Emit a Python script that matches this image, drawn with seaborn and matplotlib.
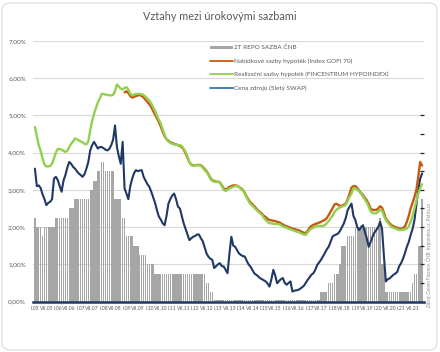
import numpy as np
import pandas as pd
import matplotlib
matplotlib.use("Agg")
import matplotlib.pyplot as plt
from matplotlib.lines import Line2D
from matplotlib.patches import Patch, FancyBboxPatch
import seaborn as sns

# monthly values, I.2005 - XII.2021 (in %)
repo = [
    2.25, 2.0, 2.0, 2.0, 1.75, 2.0, 2.0, 2.0, 2.0, 2.0, 2.0, 2.25,
    2.25, 2.25, 2.25, 2.25, 2.25, 2.25, 2.5, 2.5, 2.5, 2.75, 2.75, 2.75,
    2.75, 2.75, 2.75, 2.75, 2.75, 3.0, 3.0, 3.25, 3.25, 3.5, 3.5, 3.75,
    3.75, 3.5, 3.5, 3.5, 3.5, 3.5, 2.75, 2.75, 2.75, 2.75, 2.25, 2.25,
    1.75, 1.75, 1.75, 1.75, 1.5, 1.5, 1.5, 1.25, 1.25, 1.25, 1.25, 1.0,
    1.0, 1.0, 1.0, 0.75, 0.75, 0.75, 0.75, 0.75, 0.75, 0.75, 0.75, 0.75,
    0.75, 0.75, 0.75, 0.75, 0.75, 0.75, 0.75, 0.75, 0.75, 0.75, 0.75, 0.75,
    0.75, 0.75, 0.75, 0.75, 0.75, 0.75, 0.5, 0.5, 0.25, 0.25, 0.05, 0.05,
    0.05, 0.05, 0.05, 0.05, 0.05, 0.05, 0.05, 0.05, 0.05, 0.05, 0.05, 0.05,
    0.05, 0.05, 0.05, 0.05, 0.05, 0.05, 0.05, 0.05, 0.05, 0.05, 0.05, 0.05,
    0.05, 0.05, 0.05, 0.05, 0.05, 0.05, 0.05, 0.05, 0.05, 0.05, 0.05, 0.05,
    0.05, 0.05, 0.05, 0.05, 0.05, 0.05, 0.05, 0.05, 0.05, 0.05, 0.05, 0.05,
    0.05, 0.05, 0.05, 0.05, 0.05, 0.05, 0.25, 0.25, 0.25, 0.25, 0.5, 0.5,
    0.5, 0.75, 0.75, 0.75, 1.0, 1.5, 1.5, 1.5, 1.75, 1.75, 1.75, 1.75,
    2.0, 2.0, 2.0, 2.0, 2.0, 2.0, 2.0, 2.0, 2.0, 2.0, 2.0, 2.0,
    2.0, 2.25, 1.0, 1.0, 0.25, 0.25, 0.25, 0.25, 0.25, 0.25, 0.25, 0.25,
    0.25, 0.25, 0.25, 0.25, 0.25, 0.25, 0.5, 0.75, 0.75, 1.5, 1.5, 2.75,
]

gofi = [np.nan] * 47 + [
    5.62,
    5.65, 5.6, 5.52, 5.48, 5.5, 5.52, 5.54, 5.55, 5.52, 5.48, 5.42, 5.36,
    5.3, 5.22, 5.12, 5.02, 4.92, 4.82, 4.7, 4.56, 4.44, 4.36, 4.32, 4.28,
    4.26, 4.24, 4.22, 4.2, 4.18, 4.15, 4.08, 3.98, 3.86, 3.74, 3.68, 3.66,
    3.66, 3.67, 3.67, 3.66, 3.62, 3.56, 3.5, 3.42, 3.32, 3.26, 3.24, 3.22,
    3.22, 3.2, 3.12, 3.04, 3.0, 3.04, 3.08, 3.1, 3.12, 3.12, 3.11, 3.08,
    3.04, 3.0, 2.92, 2.82, 2.74, 2.66, 2.62, 2.56, 2.5, 2.45, 2.4, 2.36,
    2.3, 2.27, 2.22, 2.19, 2.18, 2.17, 2.16, 2.14, 2.13, 2.1, 2.07, 2.04,
    2.02, 2.0, 1.98, 1.96, 1.95, 1.93, 1.92, 1.9, 1.87, 1.85, 1.83, 1.9,
    1.98, 2.03, 2.06, 2.08, 2.1, 2.12, 2.14, 2.17, 2.19, 2.24, 2.32, 2.41,
    2.5, 2.6, 2.63, 2.6, 2.56, 2.58, 2.6, 2.63, 2.75, 2.9, 3.06, 3.1,
    3.1, 3.05, 2.98, 2.92, 2.86, 2.78, 2.72, 2.62, 2.5, 2.46, 2.46, 2.46,
    2.5, 2.56, 2.52, 2.38, 2.23, 2.16, 2.1, 2.05, 2.02, 2.0, 1.98, 1.96,
    1.96, 1.97, 2.02, 2.14, 2.3, 2.5, 2.65, 2.81, 3.0, 3.35, 3.75, 3.65,
]

hypoindex = [
    4.69, 4.45, 4.2, 4.05, 3.85, 3.68, 3.63, 3.63, 3.64, 3.7, 3.85, 4.0,
    4.1, 4.1, 4.08, 4.05, 4.02, 4.05, 4.15, 4.24, 4.3, 4.38, 4.36, 4.33,
    4.3, 4.28, 4.24, 4.22, 4.3, 4.6, 4.85, 5.04, 5.2, 5.35, 5.45, 5.58,
    5.58, 5.56, 5.55, 5.54, 5.54, 5.55, 5.65, 5.83, 5.78, 5.72, 5.7, 5.74,
    5.76, 5.7, 5.58, 5.54, 5.56, 5.58, 5.58, 5.58, 5.57, 5.55, 5.5, 5.45,
    5.4, 5.32, 5.22, 5.12, 5.0, 4.88, 4.78, 4.62, 4.48, 4.36, 4.3, 4.26,
    4.24, 4.22, 4.22, 4.2, 4.2, 4.18, 4.1, 4.02, 3.9, 3.75, 3.66, 3.65,
    3.66, 3.66, 3.66, 3.65, 3.6, 3.53, 3.48, 3.4, 3.3, 3.24, 3.22, 3.21,
    3.21, 3.2, 3.1, 3.0, 2.97, 3.0, 3.04, 3.06, 3.08, 3.1, 3.1, 3.08,
    3.02, 2.99, 2.9, 2.8, 2.7, 2.62, 2.58, 2.52, 2.47, 2.42, 2.37, 2.33,
    2.25, 2.19, 2.14, 2.1, 2.1, 2.09, 2.08, 2.08, 2.08, 2.05, 2.02, 2.0,
    1.98, 1.96, 1.94, 1.92, 1.9, 1.88, 1.87, 1.85, 1.82, 1.8, 1.79, 1.85,
    1.92, 1.96, 1.98, 2.01, 2.03, 2.03, 2.03, 2.03, 2.05, 2.1, 2.16, 2.23,
    2.3, 2.4, 2.46, 2.5, 2.53, 2.55, 2.57, 2.6, 2.7, 2.82, 2.9, 3.04,
    3.04, 3.0, 2.96, 2.9, 2.82, 2.74, 2.66, 2.55, 2.42, 2.38, 2.37, 2.37,
    2.42, 2.46, 2.44, 2.3, 2.19, 2.12, 2.06, 2.0, 1.98, 1.96, 1.94, 1.92,
    1.92, 1.93, 1.94, 1.96, 2.02, 2.14, 2.3, 2.5, 2.7, 2.9, 3.05, 3.15,
]

swap = [
    3.57, 3.1, 3.12, 3.05, 2.88, 2.75, 2.59, 2.65, 2.68, 2.75, 3.3, 3.35,
    3.26, 3.1, 2.95, 3.25, 3.4, 3.6, 3.75, 3.7, 3.62, 3.57, 3.5, 3.44,
    3.4, 3.35, 3.42, 3.57, 3.75, 4.06, 4.2, 4.29, 4.2, 4.11, 4.15, 4.15,
    4.12, 4.08, 4.06, 4.1, 4.2, 4.35, 4.73, 4.15, 3.9, 3.7, 4.29, 3.04,
    2.9, 2.75, 3.1, 3.3, 3.45, 3.53, 3.5, 3.52, 3.53, 3.35, 3.25, 3.15,
    3.08, 2.95, 2.8, 2.65, 2.45, 2.28, 2.2, 2.1, 2.05, 2.3, 2.63, 2.75,
    2.85, 2.9, 2.75, 2.55, 2.5, 2.3, 2.1, 1.95, 1.8, 1.65, 1.7, 1.74,
    1.76, 1.8, 1.8, 1.7, 1.62, 1.45, 1.29, 1.2, 1.15, 1.12, 0.9, 0.95,
    1.0, 1.03, 0.95, 0.94, 0.85, 0.76, 1.29, 1.74, 1.5, 1.47, 1.38, 1.29,
    1.25, 1.22, 1.21, 1.1, 1.0, 0.94, 0.85, 0.76, 0.72, 0.68, 0.63, 0.6,
    0.57, 0.54, 0.48, 0.4, 0.6, 0.85, 0.7, 0.49, 0.55, 0.6, 0.63, 0.5,
    0.45, 0.5, 0.54, 0.27, 0.29, 0.3, 0.31, 0.34, 0.38, 0.42, 0.5, 0.58,
    0.65, 0.72, 0.76, 0.85, 0.98, 1.05, 1.12, 1.21, 1.3, 1.4, 1.47, 1.6,
    1.74, 1.78, 1.8, 1.83, 1.9, 2.0, 2.1, 2.25, 2.46, 2.55, 2.63, 2.3,
    2.19, 2.0, 1.92, 2.0, 2.05, 1.87, 1.7, 1.47, 1.6, 1.74, 1.85, 1.92,
    2.0, 2.14, 1.95, 1.21, 0.54, 0.6, 0.62, 0.67, 0.72, 0.75, 0.8, 0.95,
    1.03, 1.15, 1.3, 1.47, 1.6, 1.79, 1.95, 2.19, 2.6, 2.99, 3.3, 3.44,
]

months = pd.date_range("2005-01-01", periods=len(repo), freq="MS")
df = pd.DataFrame({"idx": np.arange(len(months)), "repo": repo, "gofi": gofi,
                   "hypo": hypoindex, "swap": swap})

label_pos = [i for i, d in enumerate(months) if d.month in (1, 7)]
label_txt = [("I." if months[i].month == 1 else "VII.") + months[i].strftime("%y")
             for i in label_pos]

sns.set_theme(style="white")
plt.rcParams["font.family"] = ["Lato", "DejaVu Sans"]

c_bar = "#a6a6a6"
c_gofi = "#c55a11"
c_hypo = "#92d050"
c_swap = "#1f3864"
c_text = "#595959"

fig = plt.figure(figsize=(4.4, 3.52), dpi=100)
W, H = 440, 352
ax = fig.add_axes([33 / W, 1 - 301.5 / H, 391 / W, 260.5 / H])

sns.barplot(data=df, x="idx", y="repo", native_scale=True, color=c_bar,
            width=0.72, saturation=1, linewidth=0, ax=ax, zorder=2)
sns.lineplot(data=df, x="idx", y="swap", color=c_swap, linewidth=1.5, ax=ax, zorder=3)
sns.lineplot(data=df, x="idx", y="gofi", color=c_gofi, linewidth=1.7, ax=ax, zorder=4)
sns.lineplot(data=df, x="idx", y="hypo", color=c_hypo, linewidth=1.7, ax=ax, zorder=5)

ax.set_xlim(-1, 204)
ax.set_ylim(0, 7)
ax.set_yticks(np.arange(0, 8, 1))
ax.set_yticklabels(["{:.2f}%".format(v).replace(".", ",") for v in range(8)])
ax.set_xticks(label_pos)
ax.set_xticklabels(label_txt)
ax.set_xticks([24, 60, 96, 132, 168], minor=True)
ax.tick_params(axis="y", length=0, pad=5, labelsize=4.6, labelcolor=c_text)
ax.tick_params(axis="x", which="major", length=0, pad=3.5, labelsize=3.7, labelcolor=c_text)
ax.tick_params(axis="x", which="minor", length=2, width=1, direction="inout", color=c_swap)
ax.set_xlabel("")
ax.set_ylabel("")
ax.grid(axis="y", color="#d9d9d9", linewidth=0.8, zorder=0)
ax.set_axisbelow(True)
for s in ["top", "right", "left"]:
    ax.spines[s].set_visible(False)
ax.spines["bottom"].set_color(c_swap)
ax.spines["bottom"].set_linewidth(1.8)
ax.spines["bottom"].set_zorder(6)

# unlabelled tick marks on the right side
ax2 = ax.twinx()
ax2.set_ylim(0, 7)
ax2.set_yticks(np.arange(0.5, 5.01, 0.5))
ax2.tick_params(axis="y", length=3, width=0.9, direction="in", color="#262626", labelright=False)
for s in ax2.spines.values():
    s.set_visible(False)
ax2.grid(False)

handles = [
    Patch(facecolor=c_bar, edgecolor="none"),
    Line2D([], [], color=c_gofi, linewidth=1.3),
    Line2D([], [], color=c_hypo, linewidth=1.3),
    Line2D([], [], color="#2e75b6", linewidth=1.3),
]
labels = ["2T REPO SAZBA ČNB", "Nabídkové sazby hypoték (Index GOFI 70)",
          "Realizační sazby hypoték (FINCENTRUM HYPOINDEX)", "Cena zdrojů (5letý SWAP)"]
ax2.legend(handles, labels, loc="upper left", bbox_to_anchor=(0.452, 0.985),
           frameon=False, fontsize=4.6, labelcolor=c_text, handlelength=3.6,
           handleheight=0.4, handletextpad=0.15, labelspacing=1.25,
           borderpad=0, borderaxespad=0)

fig.text(0.5, 1 - 17 / H, "Vztahy mezi úrokovými sazbami", ha="center", va="center",
         fontsize=7.8, color=c_text)
fig.text(429 / W, 1 - 307 / H, "Zdroj: Golem Finance, ČNB, hypoindex.cz, Patria.cz",
         rotation=90, ha="center", va="bottom", fontsize=3.3, color="#8c8c8c")

fig.patches.append(FancyBboxPatch((2 / W, 2 / H), 435 / W, 347 / H,
                                  boxstyle="round,pad=0,rounding_size=0.02",
                                  transform=fig.transFigure, facecolor="none",
                                  edgecolor="#d9d9d9", linewidth=0.8))

fig.savefig("out.png", dpi=100)
